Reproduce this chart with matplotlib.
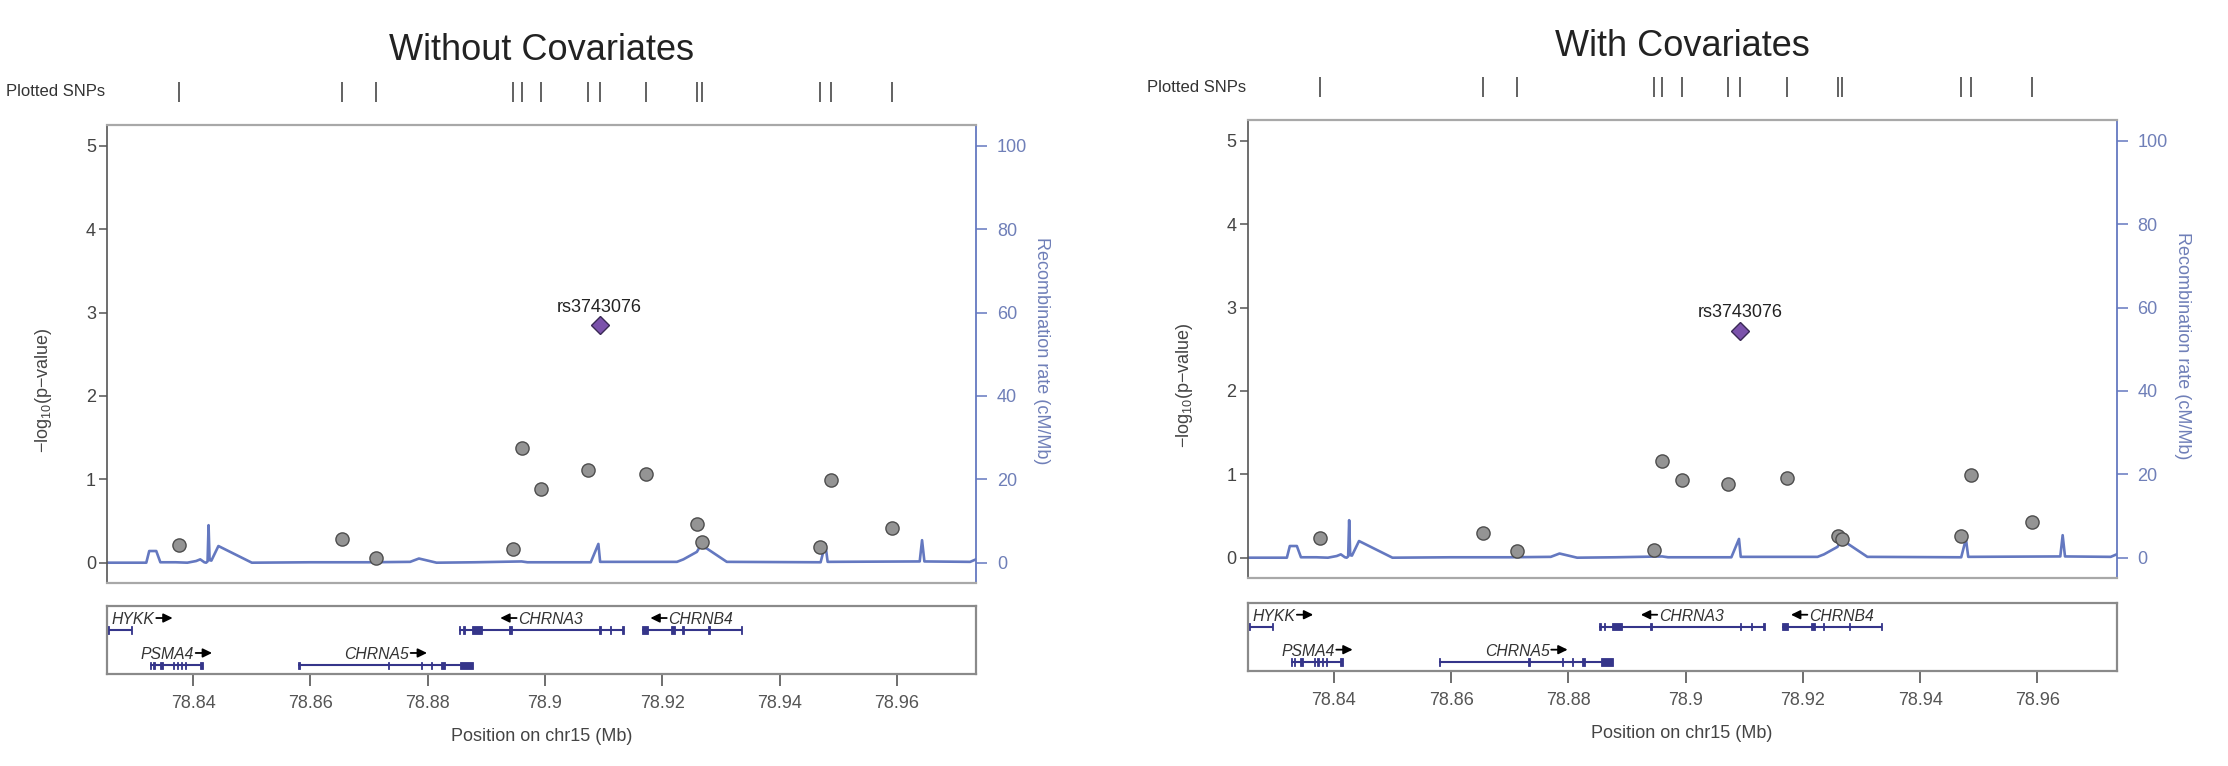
import matplotlib
matplotlib.use('Agg')
import matplotlib.pyplot as plt
from matplotlib.patches import Rectangle
from matplotlib.text import OffsetFrom
from matplotlib.patches import ArrowStyle
import matplotlib.transforms as mtransforms

plt.rcParams['font.family'] = ['Liberation Sans', 'DejaVu Sans']
plt.rcParams['mathtext.fontset'] = 'custom'
plt.rcParams['mathtext.rm'] = 'Liberation Sans'
plt.rcParams['mathtext.default'] = 'regular'

# ---------------- data ----------------
panel_titles = ["Without Covariates", "With Covariates"]
lead_snp = "rs3743076"
snp_pos = [78.8376, 78.8654, 78.8712, 78.8946, 78.8960, 78.8993, 78.9073,
           78.9093, 78.9173, 78.9260, 78.9267, 78.9469, 78.9487, 78.9591]
logp_without = [0.21, 0.28, 0.06, 0.16, 1.38, 0.88, 1.11,
                2.85, 1.06, 0.46, 0.25, 0.19, 0.99, 0.42]
logp_with = [0.24, 0.30, 0.08, 0.09, 1.16, 0.93, 0.88,
             2.72, 0.95, 0.26, 0.23, 0.26, 0.99, 0.43]
lead_index = 7

recomb_pos = [78.8253, 78.8320, 78.8325, 78.8337, 78.8344, 78.8370, 78.8390,
              78.8405, 78.8412, 78.8419, 78.8422, 78.84245, 78.84262, 78.8428,
              78.8431, 78.8443, 78.8500, 78.8600, 78.8700, 78.8770, 78.8785,
              78.8800, 78.8815, 78.8880, 78.8960, 78.8970, 78.9078, 78.9091,
              78.9094, 78.9225, 78.9236, 78.9259, 78.9264, 78.9276, 78.9293,
              78.9310, 78.9470, 78.9478, 78.9482, 78.9639, 78.9643, 78.9647,
              78.9725, 78.9735]
recomb_rate = [0.0, 0.0, 2.8, 2.8, 0.1, 0.1, 0.0,
               0.4, 0.8, 0.1, 0.0, 0.3, 9.0, 0.6,
               0.5, 4.0, 0.0, 0.1, 0.1, 0.2, 1.0,
               0.5, 0.0, 0.1, 0.3, 0.1, 0.1, 4.5,
               0.2, 0.2, 0.8, 2.6, 3.8, 3.4, 1.8,
               0.2, 0.1, 4.5, 0.2, 0.3, 5.4, 0.3,
               0.2, 0.8]

gene_names = ["HYKK", "PSMA4", "CHRNA5", "CHRNA3", "CHRNB4"]
gene_start = [78.8000, 78.83267, 78.85795, 78.88530, 78.91650]
gene_end = [78.82955, 78.84159, 78.88769, 78.91354, 78.93355]
gene_strand = ['+', '+', '+', '-', '-']
gene_row = [0, 1, 1, 0, 0]
gene_exons = [
    [(78.8249, 78.8257), (78.8294, 78.82955)],
    [(78.83267, 78.83287), (78.83323, 78.83343), (78.83430, 78.83480),
     (78.83654, 78.83674), (78.83722, 78.83742), (78.83795, 78.83815),
     (78.83864, 78.83884), (78.84110, 78.84159)],
    [(78.85795, 78.85815), (78.87320, 78.87340), (78.87887, 78.87907),
     (78.88058, 78.88078), (78.88230, 78.88290), (78.88553, 78.88769)],
    [(78.88530, 78.88550), (78.88609, 78.88629), (78.88752, 78.88922),
     (78.89385, 78.89430), (78.90927, 78.90947), (78.91110, 78.91130),
     (78.91320, 78.91354)],
    [(78.91650, 78.91750), (78.92140, 78.92210), (78.92343, 78.92363),
     (78.92786, 78.92806), (78.93335, 78.93355)],
]

x_ticks = [78.84, 78.86, 78.88, 78.90, 78.92, 78.94, 78.96]
x_ticklabels = ["78.84", "78.86", "78.88", "78.9", "78.92", "78.94", "78.96"]
y_ticks = [0, 1, 2, 3, 4, 5]
recomb_ticks = [0, 20, 40, 60, 80, 100]
xlim = (78.8253, 78.9735)

# ---------------- style ----------------
W, H, DPI = 2228, 766, 100
BLUE = '#6478c0'
BLUE_TXT = '#6f7fb8'
GENE_C = '#35358a'
GRAY_TXT = '#444444'

fig = plt.figure(figsize=(W / DPI, H / DPI), dpi=DPI)
fig.patch.set_facecolor('white')


def fx(px):
    return px / W


def fy(py):
    return 1 - py / H


def draw_panel(x0, x1, dy_main, dy_gene, dy_top, title, logp):
    my0, my1 = 125 + dy_main, 582.7 + dy_main
    gy0, gy1 = 606 + dy_gene, 674 + dy_gene
    ax = fig.add_axes([fx(x0), fy(my1), (x1 - x0) / W, (my1 - my0) / H])
    ax2 = ax.twinx()
    ax.set_zorder(3)
    ax2.set_zorder(2)
    ax.patch.set_visible(False)

    ax.set_xlim(*xlim)
    ax.set_ylim(-0.24, 5.25)
    ax2.set_ylim(-4.8, 105)
    ax.set_xticks([])
    ax.set_yticks(y_ticks)
    ax.tick_params(axis='y', direction='out', length=6, width=1.1,
                   colors='#555555', labelsize=13, labelcolor=GRAY_TXT, pad=2)
    ax2.set_yticks(recomb_ticks)
    ax2.tick_params(axis='y', direction='out', length=8, width=1.1,
                    colors=BLUE, labelsize=13, labelcolor=BLUE_TXT, pad=7)
    for s in ['top', 'bottom']:
        ax.spines[s].set_color('#a8a8a8')
        ax.spines[s].set_linewidth(1.6)
    ax.spines['left'].set_color('#555555')
    ax.spines['left'].set_linewidth(1.2)
    ax.spines['right'].set_visible(False)
    for s in ['top', 'bottom', 'left']:
        ax2.spines[s].set_visible(False)
    ax2.spines['right'].set_color(BLUE)
    ax2.spines['right'].set_linewidth(1.3)

    ax2.plot(recomb_pos, recomb_rate, color=BLUE, lw=1.9, solid_joinstyle='round')

    others = [i for i in range(len(snp_pos)) if i != lead_index]
    ax.plot([snp_pos[i] for i in others], [logp[i] for i in others], 'o',
            ms=9.5, mfc='#949494', mec='#4d4d4d', mew=1.0, ls='none')
    ax.plot([snp_pos[lead_index]], [logp[lead_index]], 'D', ms=9.5,
            mfc='#7b52ab', mec='#3a2a55', mew=1.0, ls='none')
    ax.annotate(lead_snp, (snp_pos[lead_index], logp[lead_index]),
                xytext=(0, 13), textcoords='offset points', ha='center',
                va='center', fontsize=13, color='#222222')

    ax.set_ylabel('\u2212log$_{10}$(p\u2212value)', fontsize=13, color=GRAY_TXT)
    ax.yaxis.set_label_coords(-0.061, 0.42)
    ax2.set_ylabel('Recombination rate (cM/Mb)', fontsize=13, color=BLUE_TXT,
                   rotation=270, va='center')
    ax2.yaxis.set_label_coords(1.0756, 0.506)

    # plotted SNP rug
    ax.vlines(snp_pos, 1.05, 1.093, transform=ax.get_xaxis_transform(),
              clip_on=False, colors='#555555', lw=1.3)
    fig.text(fx(x0 - 101), fy(92 + dy_top), 'Plotted SNPs', fontsize=12,
             color='#333333', ha='left', va='center')
    fig.text(fx((x0 + x1) / 2), fy(51 + dy_top), title, fontsize=26,
             color='#222222', ha='center', va='center')

    # gene track
    gax = fig.add_axes([fx(x0), fy(gy1), (x1 - x0) / W, (gy1 - gy0) / H])
    gax.set_xlim(*xlim)
    gax.set_ylim(0, 1)
    gax.set_yticks([])
    gax.set_xticks(x_ticks)
    gax.set_xticklabels(x_ticklabels)
    gax.tick_params(axis='x', direction='out', length=8.5, width=1.2,
                    colors='#555555', labelsize=13, labelcolor='#555555', pad=6.5)
    for s in gax.spines.values():
        s.set_color('#8a8a8a')
        s.set_linewidth(1.6)
    gax.set_xlabel('Position on chr15 (Mb)', fontsize=13, color=GRAY_TXT)
    gax.xaxis.set_label_coords(0.5, -0.80)

    row_line = [0.647, 0.128]
    row_text = [0.735, 0.221]
    ex_h = 0.11
    arrow_style = ArrowStyle('-|>', head_length=0.45, head_width=0.22)
    for name, gs, ge, strand, row, exons in zip(gene_names, gene_start, gene_end,
                                                 gene_strand, gene_row, gene_exons):
        yl = row_line[row]
        gax.plot([gs, ge], [yl, yl], color=GENE_C, lw=1.5, clip_on=True,
                 solid_capstyle='butt')
        for es, ee in exons:
            gax.add_patch(Rectangle((es, yl - ex_h / 2), ee - es, ex_h,
                                    facecolor=GENE_C, edgecolor=GENE_C, lw=0.6,
                                    clip_on=True))
        if gs < xlim[0]:
            tr = mtransforms.offset_copy(gax.transData, fig=fig, x=3.4, y=0,
                                         units='points')
            txt = gax.text(xlim[0], row_text[row], name, transform=tr,
                           ha='left', va='baseline', fontsize=11.3,
                           style='italic', color='#333333')
        else:
            xc = (gs + ge) / 2
            shift = -6.5 if strand == '+' else 6.5
            tr = mtransforms.offset_copy(gax.transData, fig=fig, x=shift, y=0,
                                         units='points')
            txt = gax.text(xc, row_text[row], name, transform=tr,
                           ha='center', va='baseline', fontsize=11.3,
                           style='italic', color='#333333')
        if strand == '+':
            off = OffsetFrom(txt, (1.0, 0.6))
            tail, head = (1.2, 0), (13.0, 0)
        else:
            off = OffsetFrom(txt, (0.0, 0.6))
            tail, head = (-1.2, 0), (-13.0, 0)
        gax.annotate('', xy=head, xycoords=off, xytext=tail, textcoords=off,
                     arrowprops=dict(arrowstyle=arrow_style, color='black',
                                     lw=1.3, mutation_scale=12,
                                     shrinkA=0, shrinkB=0))


draw_panel(107, 976, 0, 0, 0, panel_titles[0], logp_without)
draw_panel(1247.6, 2116.6, -5, -3.3, -4, panel_titles[1], logp_with)

fig.savefig('out.png', dpi=DPI, facecolor='white')
